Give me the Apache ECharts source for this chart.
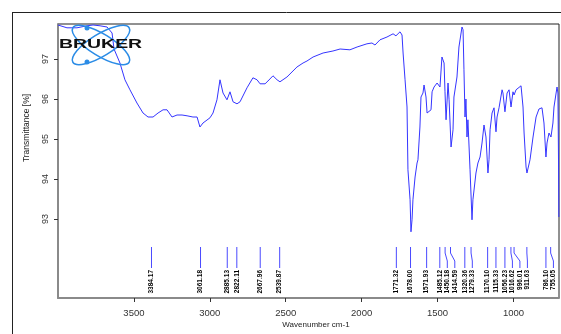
<!DOCTYPE html>
<html><head><meta charset="utf-8">
<script src="https://cdn.jsdelivr.net/npm/echarts@6/dist/echarts.min.js"></script>
<style>html,body{margin:0;padding:0;background:#fff}#c{width:561px;height:334px}</style>
</head><body><div id="c"></div>
<script>
const wavenumbers = [4000,3941,3875,3809,3769,3723,3677,3644,3631,3592,
3559,3526,3480,3440,3407,3374,3341,3308,3282,3249,
3216,3183,3150,3111,3084,3065,3045,2999,2979,2953,
2933,2920,2913,2887,2867,2854,2847,2821,2801,2755,
2716,2689,2669,2636,2617,2584,2557,2538,2492,2426,
2386,2360,2320,2254,2189,2142,2077,2030,1965,1932,
1912,1879,1833,1793,1774,1767,1747,1734,1727,1714,
1701,1695,1681,1675,1668,1662,1648,1635,1629,1616,
1609,1596,1589,1583,1576,1569,1563,1543,1536,1523,
1503,1497,1484,1471,1464,1457,1451,1444,1438,1431,
1424,1411,1398,1392,1372,1359,1339,1332,1326,1319,
1313,1306,1300,1286,1273,1267,1247,1234,1220,1207,
1194,1181,1168,1161,1154,1141,1128,1115,1108,1095,
1075,1069,1056,1042,1029,1016,1003,996,983,970,
950,937,930,917,911,891,871,851,832,812,
799,786,779,766,753,740,733,713,707,703,
701];
const transmittance = [97.85,97.78,97.78,97.83,97.85,97.83,97.80,97.65,97.25,96.90,
96.48,96.23,95.90,95.65,95.55,95.55,95.65,95.73,95.73,95.55,
95.60,95.60,95.58,95.55,95.55,95.30,95.40,95.53,95.65,95.98,
96.48,96.50,96.15,95.98,96.18,96.20,95.93,95.88,95.93,96.28,
96.53,96.48,96.38,96.38,96.45,96.58,96.48,96.43,96.55,96.80,
96.90,96.95,97.05,97.15,97.20,97.25,97.23,97.30,97.38,97.40,
97.35,97.48,97.55,97.63,97.58,97.53,97.68,97.60,97.15,96.48,
95.80,94.23,93.48,92.68,92.98,93.48,94.05,94.40,94.48,95.30,
96.05,96.15,96.35,96.40,96.05,95.65,95.65,95.73,96.18,96.30,
96.40,96.35,96.30,97.05,97.10,96.90,96.18,95.48,95.90,96.40,
95.98,94.80,95.23,96.05,96.55,97.30,97.80,97.73,96.73,95.55,
96.00,95.05,95.48,94.23,92.98,93.48,94.15,94.40,94.55,94.90,
95.35,95.05,94.15,94.48,95.23,95.65,95.78,95.18,95.55,95.78,
96.23,96.15,95.68,96.15,96.23,95.80,96.18,96.10,96.23,96.28,
96.33,95.80,95.15,94.30,94.15,94.48,95.05,95.55,95.75,95.78,
95.40,94.55,94.90,95.15,95.05,95.40,95.80,96.30,96.15,94.40,
93.05];
const peakWavenumbers = [3384.17,3061.18,2885.13,2822.11,2667.96,2539.87,
1771.32,1678.00,1571.93,1485.12,1450.18,1414.59,1320.36,1279.33,
1170.10,1115.33,1056.23,1016.62,996.01,911.63,786.10,755.05];
const peakLabels = peakWavenumbers.map(w => w.toFixed(2));
const xTickValues = [3500,3000,2500,2000,1500,1000];
const yTickValues = [93,94,95,96,97];
const X_MIN = 700, X_MAX = 4000, Y_MIN = 91.025, Y_MAX = 97.875;

const chart = echarts.init(document.getElementById('c'), null, {renderer:'canvas'});
const GAP = 7.5;
chart.setOption({
  animation:false,
  backgroundColor:'#fff',
  grid:{left:58, right:2, top:24, bottom:36, show:true, borderColor:'#222', borderWidth:1, backgroundColor:'transparent'},
  xAxis:{type:'value', inverse:true, min:X_MIN, max:X_MAX,
    axisLine:{show:true, onZero:false, lineStyle:{color:'#8a8a8a', width:2}},
    axisTick:{show:true, length:4, customValues:xTickValues, lineStyle:{color:'#333'}},
    axisLabel:{customValues:xTickValues, margin:10, fontSize:9.5, color:'#333', fontFamily:'Liberation Sans', formatter:v=>String(v)},
    splitLine:{show:false}},
  yAxis:{type:'value', min:Y_MIN, max:Y_MAX,
    axisLine:{show:true, onZero:false, lineStyle:{color:'#8a8a8a', width:2}},
    axisTick:{show:true, length:4, customValues:yTickValues, lineStyle:{color:'#333'}},
    axisLabel:{customValues:yTickValues, rotate:90, margin:8, fontSize:9, color:'#333', fontFamily:'Liberation Sans', formatter:v=>String(v)},
    splitLine:{show:false}},
  series:[
    {type:'line', data:wavenumbers.map((w,i)=>[w, transmittance[i]]), showSymbol:false, smooth:false,
     lineStyle:{color:'#3535ff', width:1}, z:3},
    {type:'custom', data:peakWavenumbers.map(w=>[w, Y_MIN]), z:4,
     renderItem:function(params, api){
       const i = params.dataIndex;
       const xs = peakWavenumbers.map(w => api.coord([w, Y_MIN])[0]);
       const lab = [];
       for (let k=0;k<xs.length;k++) lab.push(k===0 ? xs[k] : Math.max(xs[k], lab[k-1]+GAP));
       const base = api.coord([peakWavenumbers[i], Y_MIN])[1];
       const x0 = xs[i], x1 = lab[i];
       return {type:'group', children:[
         {type:'polyline', shape:{points:[[x0,base-51],[x0,base-45],[x1,base-37],[x1,base-30]]},
          style:{stroke:'#4a4aff', lineWidth:1, fill:null}},
         {type:'text', x:x1, y:base-28, rotation:Math.PI/2,
          style:{text:peakLabels[i], fontSize:6.5, fontWeight:'bold', fontFamily:'Liberation Sans', fill:'#000', align:'right', verticalAlign:'middle'}}
       ]};
     }}
  ],
  graphic:[
    {type:'line', shape:{x1:12.5, y1:12, x2:12.5, y2:334}, style:{stroke:'#222', lineWidth:1}},
    {type:'line', shape:{x1:12, y1:12.5, x2:561, y2:12.5}, style:{stroke:'#222', lineWidth:1}},
    {type:'text', x:27, y:128, rotation:Math.PI/2, style:{text:'Transmittance [%]', fontSize:8.5, fontFamily:'Liberation Sans', fill:'#222', align:'center', verticalAlign:'middle'}},
    {type:'text', x:316, y:325, style:{text:'Wavenumber cm-1', fontSize:8, fontFamily:'Liberation Sans', fill:'#222', align:'center', verticalAlign:'middle'}},
    {type:'ellipse', x:101, y:45, rotation:-0.55, shape:{cx:0, cy:0, rx:33, ry:11}, style:{fill:null, stroke:'#2b8ce6', lineWidth:1.5}, z:10},
    {type:'ellipse', x:101, y:45, rotation:0.55, shape:{cx:0, cy:0, rx:33, ry:11}, style:{fill:null, stroke:'#2b8ce6', lineWidth:1.5}, z:10},
    {type:'circle', shape:{cx:87, cy:28, r:2.5}, style:{fill:'#2b8ce6'}, z:10},
    {type:'circle', shape:{cx:87, cy:62, r:2.5}, style:{fill:'#2b8ce6'}, z:10},
    {type:'text', x:59, y:45, scaleX:1.62, style:{text:'BRUKER', font:'900 12px "Liberation Sans"', fill:'#111', align:'left', verticalAlign:'middle'}, z:11}
  ]
});
</script></body></html>
